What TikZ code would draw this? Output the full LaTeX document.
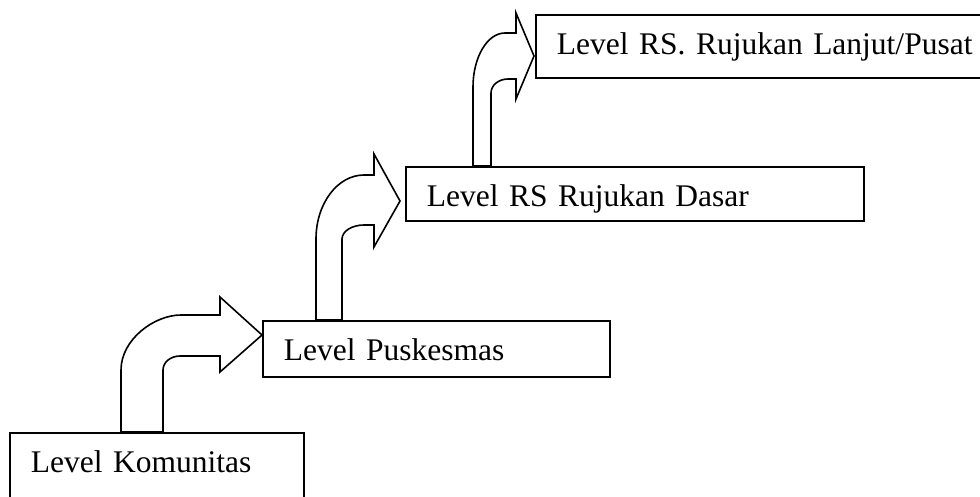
\documentclass[tikz,border=0pt]{standalone}
\usepackage{fontspec}
\setmainfont{Liberation Serif}

\begin{document}
\begin{tikzpicture}[
    x=1pt, y=-1pt,
    levelbox/.style={
        draw=black,
        line width=1.8pt,
        anchor=north west,
        inner sep=0pt,
        inner xsep=21pt,
        align=left,
        text height=40pt,
        font=\fontsize{31.5}{36}\selectfont
    },
    bentarrow/.style={draw=black, line width=1.6pt, fill=white, line join=miter}
]
\useasboundingbox (0,0) rectangle (980,497);
\clip (0,0) rectangle (980,497);

% The four care levels, one step up and to the right each time.
\node[levelbox, text width=252pt, text depth=60pt] (komunitas) at (9,432) {Level Komunitas};
\node[levelbox, text width=305pt, text depth=16pt] (puskesmas) at (262,320) {Level Puskesmas};
\node[levelbox, text width=416pt, text depth=14pt] (rsdasar) at (405,166) {Level RS Rujukan Dasar};
\node[levelbox, text width=440pt, text depth=23pt] (rslanjut) at (535,14) {Level RS. Rujukan Lanjut/Pusat};

% Bent block arrows: up from the top of one box, then right into the next.
\draw[bentarrow] (121,432) -- (121,370)
    .. controls (121,339.6) and (154.1,315) .. (181,315)
    -- (220,315) -- (220,297) -- (262,335) -- (220,372) -- (220,356) -- (180,356)
    .. controls (170.6,356) and (163,362.3) .. (163,370)
    -- (163,432) -- cycle;
\draw[bentarrow] (316,320) -- (316,239)
    .. controls (316,203.7) and (337.5,175) .. (364,175)
    -- (374,175) -- (374,154) -- (400,201) -- (374,247) -- (374,225) -- (364,225)
    .. controls (351.9,225) and (342,231.3) .. (342,239)
    -- (342,320) -- cycle;
\draw[bentarrow] (473,166) -- (473,87)
    .. controls (473,57.2) and (487.3,33) .. (505,33)
    -- (516,33) -- (516,13) -- (534,56) -- (516,99) -- (516,79) -- (508,79)
    .. controls (498.6,79) and (491,85.3) .. (491,93)
    -- (491,166) -- cycle;

\end{tikzpicture}
\end{document}
